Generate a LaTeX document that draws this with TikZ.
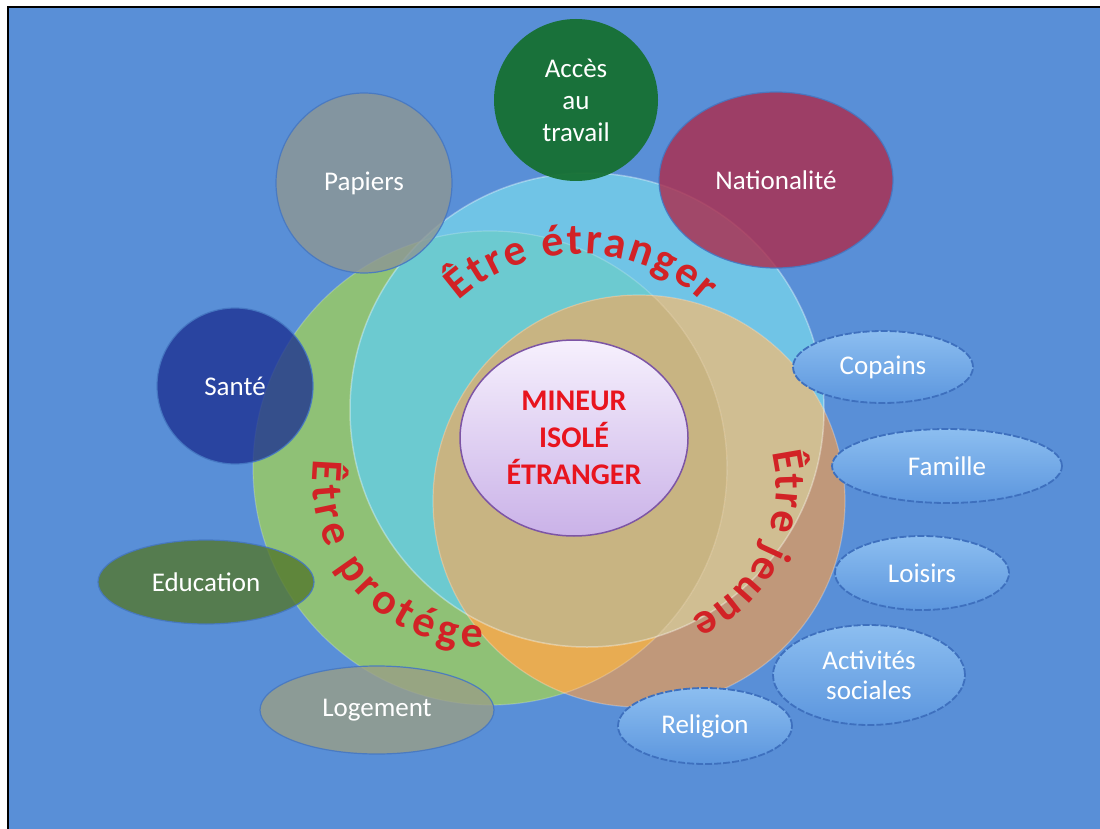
\documentclass[tikz,border=0pt]{standalone}
\usepackage{fontspec}
\setmainfont{Carlito}
\usetikzlibrary{shapes.geometric,decorations.text}
\definecolor{bgblue}{RGB}{89,143,215}
\definecolor{gonly}{RGB}{143,193,118}
\definecolor{conly}{RGB}{112,196,230}
\definecolor{cg}{RGB}{108,202,208}
\definecolor{tonly}{RGB}{192,152,122}
\definecolor{tc}{RGB}{208,190,146}
\definecolor{tg}{RGB}{232,172,82}
\definecolor{tcg}{RGB}{200,180,130}
\definecolor{papier}{RGB}{141,151,148}
\definecolor{acces}{RGB}{22,112,50}
\definecolor{nation}{RGB}{172,45,78}
\definecolor{sante}{RGB}{28,48,145}
\definecolor{educ}{RGB}{84,120,45}
\definecolor{logem}{RGB}{153,158,134}
\definecolor{ovaltop}{RGB}{140,190,240}
\definecolor{ovalbot}{RGB}{92,150,222}
\definecolor{ovaledge}{RGB}{62,112,190}
\definecolor{satedge}{RGB}{70,120,195}
\definecolor{centtop}{RGB}{246,240,253}
\definecolor{centbot}{RGB}{202,178,232}
\definecolor{centedge}{RGB}{125,85,165}
\definecolor{wred}{RGB}{210,34,38}
\definecolor{mred}{RGB}{232,20,30}
\newcommand\wordartfont{\bfseries\fontsize{44}{46}\selectfont}
\newcommand\curvedword[5]{%
  \path[decorate, decoration={text along path, text color=wred, text={|\wordartfont|#5}, text align=fit to path}] #1 ++(#3:#2pt) arc[start angle=#3, end angle=#4, radius=#2pt];
}
\tikzset{
 sat/.style={ellipse, inner sep=0pt, outer sep=0pt, draw=satedge, line width=1.2pt, fill opacity=0.82, draw opacity=0.9, text opacity=1, text=white, font=\fontsize{27}{32}\selectfont, align=center},
 bluesat/.style={ellipse, inner sep=0pt, outer sep=0pt, top color=ovaltop, bottom color=ovalbot, draw=ovaledge, line width=1.8pt, dash pattern=on 7pt off 2pt, text=white, font=\fontsize{27}{30}\selectfont, align=center},
}
\begin{document}
\begin{tikzpicture}[x=1pt,y=1pt]
\useasboundingbox (0,0) rectangle (1100,-829);
\fill[white] (-5,5) rectangle (1105,-834);
\fill[bgblue] (8,-7) rectangle (1105,-834);
\draw[black, line width=2.5pt] (8,-834) -- (8,-7) -- (1105,-7);
% big circles
\fill[gonly] (490,-468) circle[radius=237pt];
\fill[conly] (587,-410) circle[radius=237pt];
\begin{scope}
 \clip (587,-410) circle[radius=237pt];
 \fill[cg] (490,-468) circle[radius=237pt];
\end{scope}
\fill[tonly] (639,-501) circle[radius=206pt];
\begin{scope}
 \clip (639,-501) circle[radius=206pt];
 \fill[tc] (587,-410) circle[radius=237pt];
 \fill[tg] (490,-468) circle[radius=237pt];
 \clip (587,-410) circle[radius=237pt];
 \fill[tcg] (490,-468) circle[radius=237pt];
\end{scope}
\draw[white, opacity=0.35, line width=1.5pt] (587,-410) circle[radius=237pt];
\draw[white, opacity=0.25, line width=1.2pt] (639,-501) circle[radius=206pt];
\draw[white, opacity=0.2, line width=1.2pt] (490,-468) circle[radius=237pt];
% curved titles
\curvedword{(580,-435)}{181}{132}{47}{Être étranger}
\curvedword{(480,-480)}{167}{173}{271}{Être protége}
\curvedword{(633,-487)}{143}{14}{-66}{Être jeune}
% satellites
\node[sat, fill=papier, minimum width=176pt, minimum height=180pt] (papiers) at (364,-183) {Papiers};
\node[sat, fill=acces, fill opacity=0.95, draw=none, minimum width=164pt, minimum height=162pt] (acces) at (576,-100) {Accès\\au\\travail};
\node[sat, fill=nation, minimum width=234pt, minimum height=176pt] (nation) at (776,-180) {Nationalité};
\node[sat, fill=sante, fill opacity=0.78, minimum width=156pt, minimum height=156pt] (sante) at (235,-386) {Santé};
\node[sat, fill=educ, fill opacity=0.8, minimum width=216pt, minimum height=84pt] (educ) at (206,-582) {Education};
\node[sat, fill=logem, fill opacity=0.8, minimum width=234pt, minimum height=88pt] (logement) at (377,-710) {Logement};
\node[bluesat, minimum width=180pt, minimum height=72pt] (copains) at (883,-367) {Copains};
\node[bluesat, minimum width=230pt, minimum height=74pt] (famille) at (947,-466) {Famille};
\node[bluesat, minimum width=174pt, minimum height=74pt] (loisirs) at (922,-573) {Loisirs};
\node[bluesat, minimum width=192pt, minimum height=100pt] (activites) at (869,-675) {Activités\\sociales};
\node[bluesat, minimum width=174pt, minimum height=76pt] (religion) at (705,-726) {Religion};
% centre
\node[ellipse, inner sep=0pt, minimum width=228pt, minimum height=196pt, top color=centtop, bottom color=centbot, draw=centedge, line width=1.5pt, text=mred, font=\bfseries\fontsize{30}{37}\selectfont, align=center] (centre) at (574,-438) {MINEUR\\ISOLÉ\\ÉTRANGER};
\end{tikzpicture}
\end{document}
